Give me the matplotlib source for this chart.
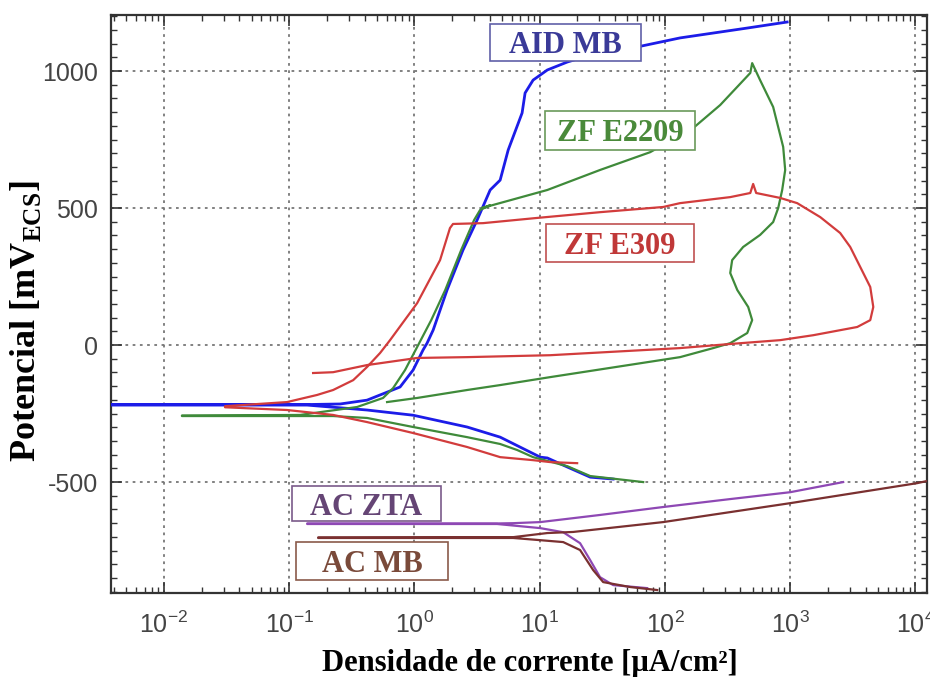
import numpy as np
import matplotlib
matplotlib.use("Agg")
import matplotlib.pyplot as plt
from matplotlib.ticker import LogLocator, MultipleLocator, NullFormatter
from matplotlib.patches import Rectangle

# -----------------------------
# Polarisation curves: current density [uA/cm2] and potential [mV]
# -----------------------------
aid_mb_i = [38.6, 25.3, 16.6, 11.5, 10.1, 4.83, 2.63, 0.975, 0.418, 0.139, 0.0036,
            0.0036, 0.139, 0.255, 0.418, 0.767, 0.975, 1.17, 1.26, 1.41, 1.82, 2.44,
            3.16, 4.02, 4.83, 5.6, 7.23, 7.64, 8.85, 11.5, 16.6, 30.3, 60.0, 132,
            454, 946]
aid_mb_e = [-489, -482, -445, -412, -409, -336, -299, -256, -237, -219, -219,
            -217, -217, -215, -201, -153, -91, -18, 7, 55, 201, 347,
            456, 566, 602, 712, 847, 920, 967, 1004, 1033, 1069, 1088, 1121,
            1157, 1179]

zf_e2209_i = [67.0, 25.3, 16.6, 8.85, 6.61, 4.83, 2.63, 0.975, 0.418, 0.224, 0.0139,
              0.0139, 0.122, 0.348, 0.561, 0.675, 0.841, 1.07, 1.36, 1.76, 2.36, 2.99,
              3.34, 4.0, 3.45, 11.5, 30.3, 76.2, 168, 276, 480, 497, 575, 731, 879,
              912, 863, 802, 731, 575, 421, 344, 332, 378, 462, 497, 454, 332, 243,
              132, 12.1, 4.83, 2.63, 1.05, 0.604]
zf_e2209_e = [-500, -478, -442, -409, -383, -361, -336, -299, -266, -259, -259,
              -257, -255, -226, -193, -157, -91, 0, 91, 201, 347, 456,
              493, 510, 500, 566, 639, 704, 792, 876, 993, 1029, 967, 869, 723,
              639, 566, 500, 449, 402, 358, 310, 263, 201, 139, 91, 44, 7, -11,
              -44, -117, -146, -164, -193, -208]

zf_e309_i = [19.9, 12.1, 8.85, 4.83, 2.63, 0.975, 0.418, 0.224, 0.096, 0.0307,
             0.0307, 0.096, 0.167, 0.224, 0.324, 0.418, 0.531, 0.638, 1.05, 1.60,
             1.92, 2.03, 3.53, 9.53, 30.3, 96.8, 132, 332, 480, 506, 535, 832, 1137,
             1738, 2506, 3015, 3625, 4357, 4607, 4357, 3429, 1528, 832, 332, 132,
             12.1, 2.63, 1.05, 0.418, 0.224, 0.155]
zf_e309_e = [-431, -427, -420, -409, -372, -321, -281, -255, -237, -227,
             -223, -208, -182, -164, -128, -80, -29, 18, 153, 310,
             427, 442, 445, 464, 485, 504, 518, 540, 555, 588, 555, 537, 518,
             467, 409, 358, 285, 212, 139, 91, 66, 36, 18, 4, -11,
             -37, -44, -47, -73, -99, -102]

ac_zta_i = [72.1, 38.6, 30.3, 25.3, 21.0, 15.4, 10.1, 6.97, 4.57, 0.139,
            0.139, 4.57, 6.14, 10.1, 30.3, 96.8, 332, 998, 2648]
ac_zta_e = [-887, -876, -847, -785, -723, -683, -668, -661, -653, -653,
            -651, -651, -650, -646, -620, -591, -562, -537, -500]

ac_mb_i = [86.7, 52.7, 32.1, 26.7, 21.0, 15.4, 10.1, 6.14, 0.170,
           0.170, 6.14, 11.5, 18.5, 96.8, 998, 10300, 12400]
ac_mb_e = [-894, -883, -865, -821, -748, -719, -712, -704, -704,
           -702, -701, -686, -682, -646, -577, -504, -496]

series = [
    ("AID MB", aid_mb_i, aid_mb_e, "#1c1ce8", 2.0),
    ("ZF E2209", zf_e2209_i, zf_e2209_e, "#3f8a3a", 1.6),
    ("ZF E309", zf_e309_i, zf_e309_e, "#d23c3c", 1.6),
    ("AC ZTA", ac_zta_i, ac_zta_e, "#8e48b4", 1.6),
    ("AC MB", ac_mb_i, ac_mb_e, "#7a3030", 1.6),
]

# label boxes in axes fraction: (left, bottom, right, top), text colour, edge colour
labels = {
    "AID MB": ((0.4647, 0.9204, 0.6496, 0.9844), "#3a3a98", "#6060a8"),
    "ZF E2209": ((0.5320, 0.7664, 0.7158, 0.8339), "#4a8a3a", "#6a9a5a"),
    "ZF E309": ((0.5333, 0.5727, 0.7145, 0.6384), "#c03838", "#c05050"),
    "AC ZTA": ((0.2221, 0.1246, 0.4046, 0.1851), "#654575", "#7a5a8a"),
    "AC MB": ((0.2270, 0.0225, 0.4132, 0.0882), "#7a4a3a", "#8a5a4a"),
}

plt.rcParams["font.family"] = "Liberation Sans"
plt.rcParams["axes.unicode_minus"] = False
plt.rcParams["mathtext.fontset"] = "custom"
plt.rcParams["mathtext.bf"] = "Liberation Serif:bold"
plt.rcParams["mathtext.rm"] = "Liberation Sans"

fig = plt.figure(figsize=(9.3, 6.77), dpi=100)
ax = fig.add_axes([0.119, 0.124, 0.878, 0.854])

for name, i_vals, e_vals, color, lw in series:
    ax.plot(i_vals, e_vals, color=color, lw=lw, solid_joinstyle="round", zorder=3)

ax.set_xscale("log")
ax.set_xlim(10 ** -2.426, 10 ** 4.094)
ax.set_ylim(-905, 1205)

ax.xaxis.set_major_locator(LogLocator(base=10, numticks=10))
ax.xaxis.set_minor_locator(LogLocator(base=10, subs=np.arange(2, 10), numticks=20))
ax.xaxis.set_minor_formatter(NullFormatter())
ax.yaxis.set_major_locator(MultipleLocator(500))
ax.yaxis.set_minor_locator(MultipleLocator(50))

ax.grid(True, which="major", color="#777777", linestyle=(0, (1.5, 2.5)), lw=1.3)
ax.tick_params(which="both", direction="in", top=True, right=True, colors="#333333",
               labelcolor="#444444", labelsize=18)
ax.tick_params(which="major", length=8, width=1.2)
ax.tick_params(which="minor", length=4, width=1.0)
ax.tick_params(axis="x", pad=13)
ax.tick_params(axis="y", pad=9)
for sp in ax.spines.values():
    sp.set_color("#333333")
    sp.set_linewidth(1.6)

ax.set_xlabel("Densidade de corrente [µA/cm²]", family="Liberation Serif",
              fontweight="bold", fontsize=22)
ax.set_ylabel(r"Potencial [mV$_{\mathbf{ECS}}$]", family="Liberation Serif",
              fontweight="bold", fontsize=26)
ax.xaxis.set_label_coords(0.514, -0.097)
ax.yaxis.set_label_coords(-0.083, 0.47)

for text, (box, tcolor, ecolor) in labels.items():
    x0, y0, x1, y1 = box
    ax.add_patch(Rectangle((x0, y0), x1 - x0, y1 - y0, transform=ax.transAxes,
                           facecolor="white", edgecolor=ecolor, lw=1.2, zorder=5))
    ax.text((x0 + x1) / 2, (y0 + y1) / 2, text, transform=ax.transAxes,
            ha="center", va="center_baseline", color=tcolor, family="Liberation Serif",
            fontweight="bold", fontsize=22, zorder=6)

fig.savefig("out.png", dpi=100)
